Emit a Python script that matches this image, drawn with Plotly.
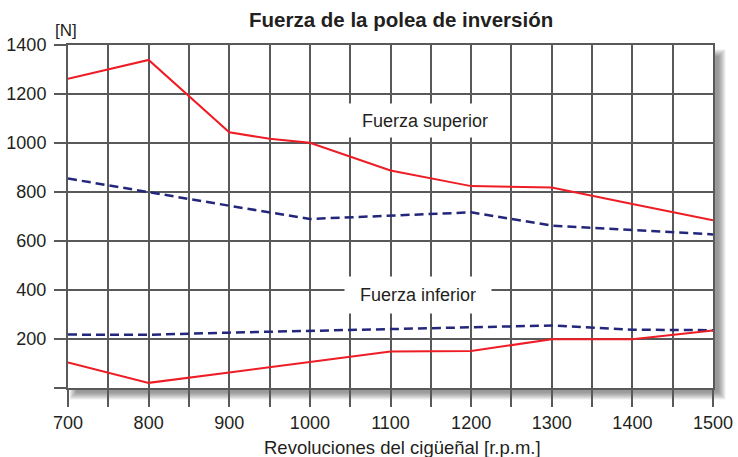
import plotly.graph_objects as go

# ---- data ----
rpm_sup_red = [700, 800, 900, 950, 1000, 1100, 1200, 1300, 1400, 1500]
sup_red = [1262, 1339, 1044, 1017, 1001, 888, 824, 818, 751, 685]

rpm = [700, 800, 900, 1000, 1100, 1200, 1300, 1400, 1500]
sup_blue = [855, 798, 744, 690, 703, 717, 663, 645, 627]
inf_blue = [218, 217, 226, 233, 241, 248, 255, 238, 236]
inf_red = [104, 21, 63, 105, 149, 151, 199, 199, 235]

x_ticks = list(range(700, 1501, 50))
x_ticktext = [str(v) if v % 100 == 0 else "" for v in x_ticks]
y_ticks = list(range(0, 1401, 200))
y_ticktext = [str(v) if v > 0 else "" for v in y_ticks]

RED = "#ee1c25"
BLUE = "#23267a"
GRID = "#58595b"
TXT = "#231f20"
FONT = "Liberation Sans, Arial, Helvetica, sans-serif"

W, H = 738, 457
L, R, T, B = 68, 25, 45, 69
PW, PH = W - L - R, H - T - B

def px_x(p):
    return (p - L) / PW

def px_y(p):
    return (H - B - p) / PH

fig = go.Figure()
fig.add_trace(go.Scatter(x=rpm_sup_red, y=sup_red, mode="lines",
                         line=dict(color=RED, width=2), hoverinfo="skip"))
fig.add_trace(go.Scatter(x=rpm, y=sup_blue, mode="lines",
                         line=dict(color=BLUE, width=2.5, dash="9px,5px"), hoverinfo="skip"))
fig.add_trace(go.Scatter(x=rpm, y=inf_blue, mode="lines",
                         line=dict(color=BLUE, width=2.5, dash="9px,5px"), hoverinfo="skip"))
fig.add_trace(go.Scatter(x=rpm, y=inf_red, mode="lines",
                         line=dict(color=RED, width=2), hoverinfo="skip"))

# drop shadow (decoration) right and bottom of plot frame
shapes = []
sx0, sx1, sy0, sy1 = 73, 722, 53, 396
right_edge = L + PW
bottom_edge = T + PH
N = 8
for k in range(N):
    e = -3.5 + 7.0 * k / (N - 1)
    col = "rgba(40,40,40,0.075)"
    shapes.append(dict(type="rect", xref="paper", yref="paper", layer="below",
                       x0=px_x(right_edge), x1=px_x(sx1 + e),
                       y0=px_y(sy0 - e), y1=px_y(sy1 + e),
                       fillcolor=col, line=dict(width=0)))
    shapes.append(dict(type="rect", xref="paper", yref="paper", layer="below",
                       x0=px_x(sx0 - e), x1=px_x(right_edge),
                       y0=px_y(bottom_edge), y1=px_y(sy1 + e),
                       fillcolor=col, line=dict(width=0)))

annotations = [
    dict(text="<b>Fuerza de la polea de inversión</b>", xref="paper", yref="paper",
         x=px_x(401), y=px_y(19), xanchor="center", yanchor="middle", showarrow=False,
         font=dict(size=20.5, color=TXT, family=FONT)),
    dict(text="Revoluciones del cigüeñal [r.p.m.]", xref="paper", yref="paper",
         x=px_x(402), y=px_y(448), xanchor="center", yanchor="middle", showarrow=False,
         font=dict(size=18.5, color=TXT, family=FONT)),
    dict(text="[N]", xref="paper", yref="paper",
         x=px_x(66), y=px_y(31), xanchor="center", yanchor="middle", showarrow=False,
         font=dict(size=17, color=TXT, family=FONT)),
    dict(text="Fuerza superior", x=1143, y=1092, xref="x", yref="y",
         showarrow=False, bgcolor="white", width=160, height=31,
         font=dict(size=18, color=TXT, family=FONT)),
    dict(text="Fuerza inferior", x=1134, y=378, xref="x", yref="y",
         showarrow=False, bgcolor="white", width=144, height=34,
         font=dict(size=18, color=TXT, family=FONT)),
]

fig.update_layout(
    width=W, height=H,
    margin=dict(l=L, r=R, t=T, b=B, pad=0),
    paper_bgcolor="white", plot_bgcolor="white",
    showlegend=False,
    shapes=shapes, annotations=annotations,
    font=dict(family=FONT, color=TXT),
)
fig.update_xaxes(range=[700, 1500], tickmode="array", tickvals=x_ticks, ticktext=x_ticktext,
                 automargin=False,
                 showgrid=True, gridcolor=GRID, gridwidth=2, zeroline=False,
                 showline=True, mirror=True, linecolor=GRID, linewidth=2,
                 ticks="outside", ticklen=17, tickwidth=2, tickcolor=GRID,
                 tickfont=dict(size=18, color=TXT, family=FONT), fixedrange=True)
fig.update_yaxes(range=[0, 1400], tickmode="array", tickvals=y_ticks, ticktext=y_ticktext,
                 automargin=False, ticklabelstandoff=4,
                 showgrid=True, gridcolor=GRID, gridwidth=2, zeroline=False,
                 showline=True, mirror=True, linecolor=GRID, linewidth=2,
                 ticks="outside", ticklen=12, tickwidth=2, tickcolor=GRID,
                 tickfont=dict(size=18, color=TXT, family=FONT), fixedrange=True)

fig.write_html("out.html", config={"displayModeBar": False},
               post_script="document.body.style.margin='0';document.body.style.overflow='hidden';")
